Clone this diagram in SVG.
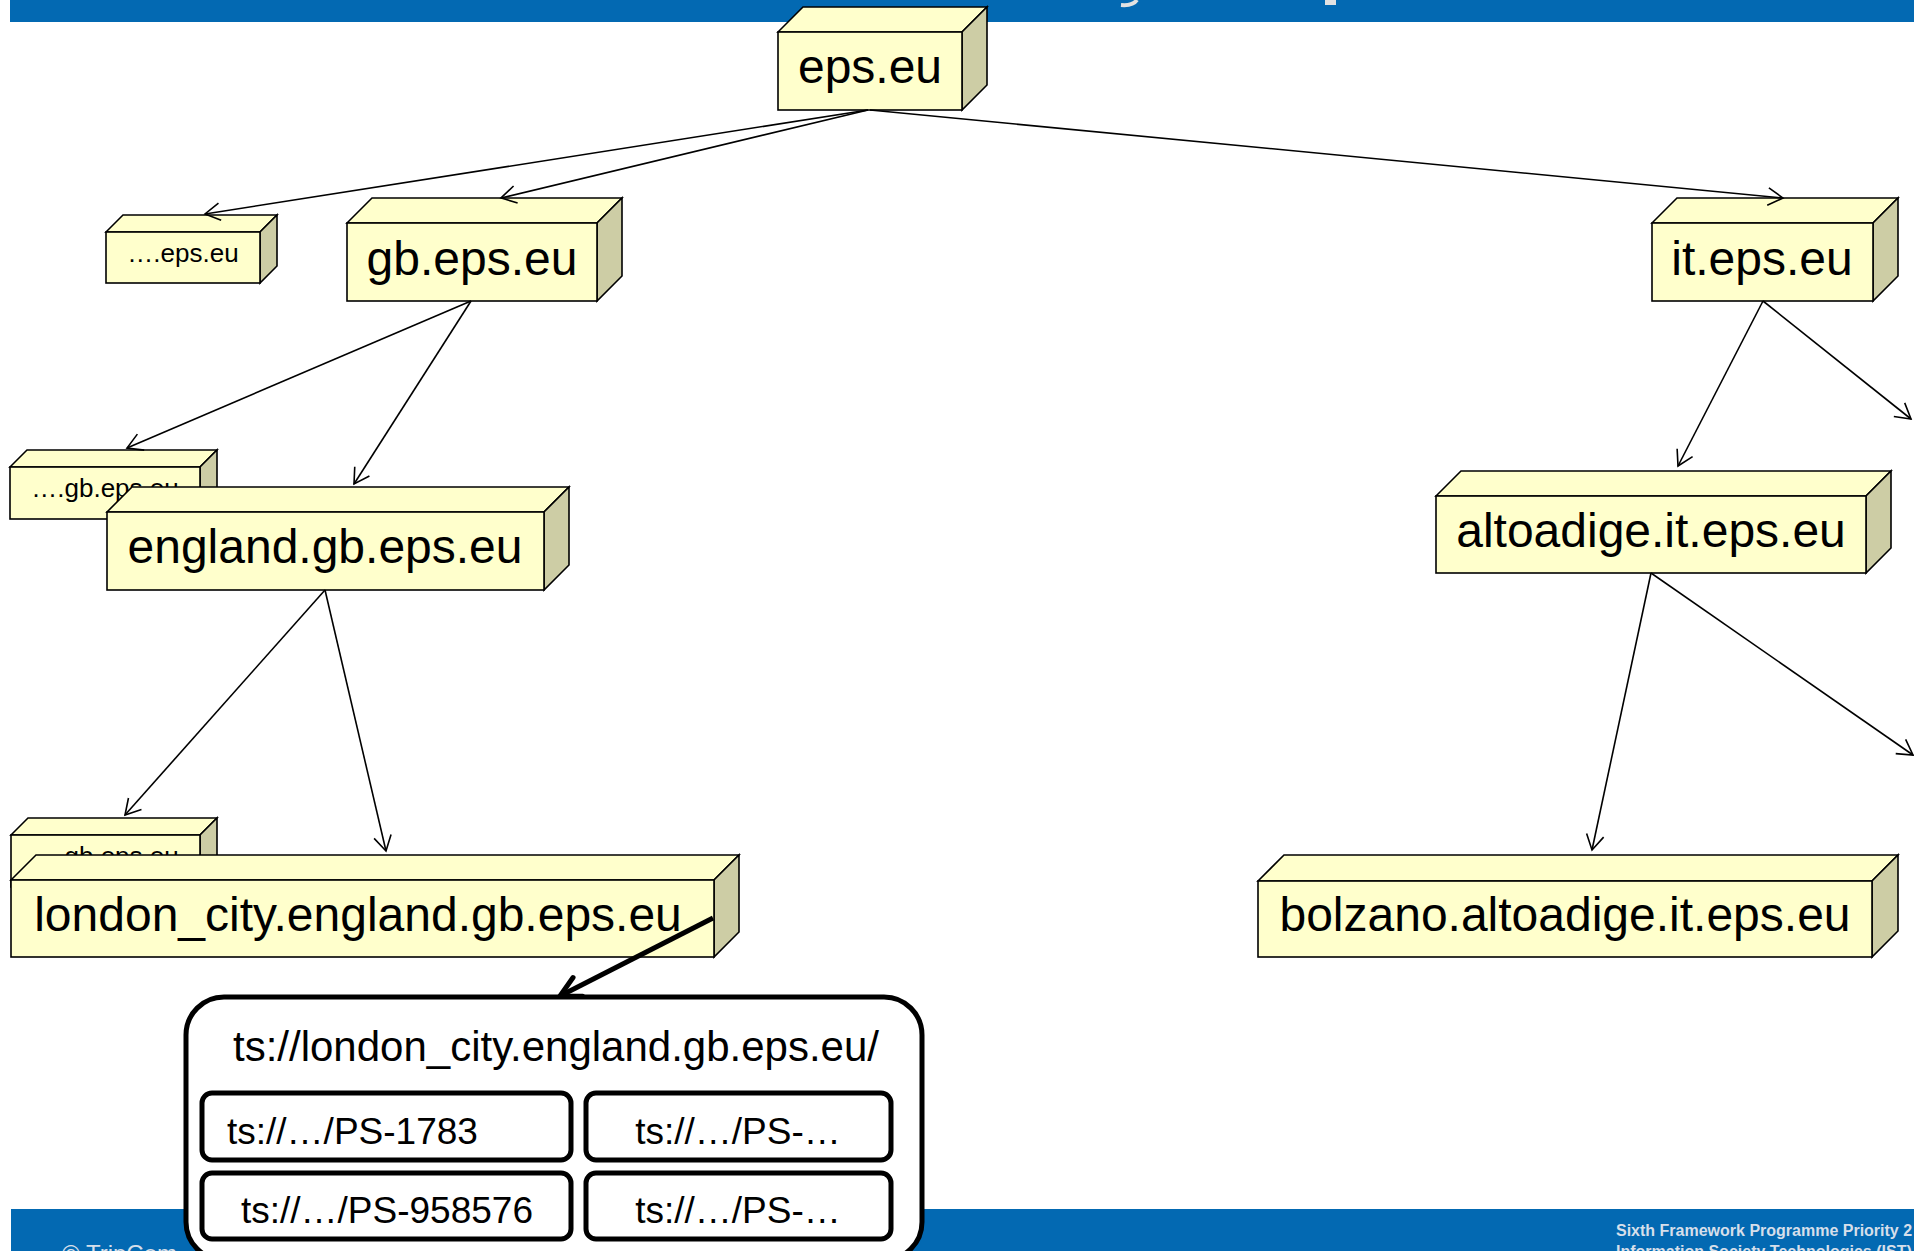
<svg xmlns="http://www.w3.org/2000/svg" width="1914" height="1251" viewBox="0 0 1914 1251">
<style>
.bar{fill:#0369B2}
.fr{fill:#FFFFCC;stroke:#000;stroke-width:1.6}
.sd{fill:#CDCDA5;stroke:#000;stroke-width:1.6}
.lbl{font-family:"Liberation Sans",Arial,sans-serif;font-size:48px;fill:#000;text-anchor:middle}
.sm{font-size:26px}
.ln{fill:none;stroke:#000;stroke-width:1.6;marker-end:url(#open)}
.thick{fill:none;stroke:#000;stroke-width:5;marker-end:url(#openThick)}
.box{fill:#fff;stroke:#000;stroke-width:5}
.ts{font-family:"Liberation Sans",Arial,sans-serif;font-size:37px;fill:#000;text-anchor:middle}
.tsl{text-anchor:start}
.tsh{font-size:42px}
.foot{font-family:"Liberation Sans",Arial,sans-serif;fill:#D6DFEA}
.f1{font-size:24px}
.f2{font-size:16px;font-weight:bold}
</style>
<defs>
<marker id="open" markerUnits="userSpaceOnUse" markerWidth="40" markerHeight="40" viewBox="-20 -20 40 40" refX="0" refY="0" orient="auto">
<path d="M-15,-8.7 L0,0 L-15,8.7" fill="none" stroke="#000" stroke-width="1.6"/>
</marker>
<marker id="openThick" markerUnits="userSpaceOnUse" markerWidth="60" markerHeight="60" viewBox="-30 -30 60 60" refX="0" refY="0" orient="auto">
<path d="M-20,-10.5 L0,0 L-20,10.5" fill="none" stroke="#000" stroke-width="5" stroke-linecap="round"/>
</marker>
</defs>
<rect x="0" y="0" width="1914" height="1251" fill="#fff"/>
<g id="header">
<rect class="bar" x="10" y="0" width="1904" height="22"/>
<path d="M1137,0 Q1133,6 1121,5" fill="none" stroke="#E2E2E2" stroke-width="4"/>
<rect x="1325" y="0" width="11" height="5" fill="#E2E2E2"/>
</g>
<g id="footer">
<rect class="bar" x="11" y="1209" width="1903" height="42"/>
<text class="foot f1" x="62" y="1262">© TripCom</text>
<text class="foot f2" x="1616" y="1236">Sixth Framework Programme Priority 2</text>
<text class="foot f2" x="1616" y="1257">Information Society Technologies (IST)</text>
</g>
<g id="node-eps">
<polygon class="fr" points="778,32 803,7 987,7 962,32"/>
<polygon class="sd" points="962,32 987,7 987,85 962,110"/>
<rect class="fr" x="778" y="32" width="184" height="78"/>
<text class="lbl" x="870" y="83">eps.eu</text>
</g>
<g id="node-dots-eps">
<polygon class="fr" points="106,232 123,215 277,215 260,232"/>
<polygon class="sd" points="260,232 277,215 277,266 260,283"/>
<rect class="fr" x="106" y="232" width="154" height="51"/>
<text class="lbl sm" x="183" y="262">….eps.eu</text>
</g>
<g id="node-gb">
<polygon class="fr" points="347,223 372,198 622,198 597,223"/>
<polygon class="sd" points="597,223 622,198 622,276 597,301"/>
<rect class="fr" x="347" y="223" width="250" height="78"/>
<text class="lbl" x="472" y="275">gb.eps.eu</text>
</g>
<g id="node-it">
<polygon class="fr" points="1652,223 1677,198 1898,198 1873,223"/>
<polygon class="sd" points="1873,223 1898,198 1898,276 1873,301"/>
<rect class="fr" x="1652" y="223" width="221" height="78"/>
<text class="lbl" x="1762" y="275">it.eps.eu</text>
</g>
<g id="node-dots-gb-1">
<polygon class="fr" points="10,467 27,450 217,450 200,467"/>
<polygon class="sd" points="200,467 217,450 217,502 200,519"/>
<rect class="fr" x="10" y="467" width="190" height="52"/>
<text class="lbl sm" x="105" y="497">….gb.eps.eu</text>
</g>
<g id="node-england">
<polygon class="fr" points="107,512 132,487 569,487 544,512"/>
<polygon class="sd" points="544,512 569,487 569,565 544,590"/>
<rect class="fr" x="107" y="512" width="437" height="78"/>
<text class="lbl" x="325" y="563">england.gb.eps.eu</text>
</g>
<g id="node-altoadige">
<polygon class="fr" points="1436,496 1461,471 1891,471 1866,496"/>
<polygon class="sd" points="1866,496 1891,471 1891,548 1866,573"/>
<rect class="fr" x="1436" y="496" width="430" height="77"/>
<text class="lbl" x="1651" y="547">altoadige.it.eps.eu</text>
</g>
<g id="node-dots-gb-2">
<polygon class="fr" points="11,835 28,818 217,818 200,835"/>
<polygon class="sd" points="200,835 217,818 217,870 200,887"/>
<rect class="fr" x="11" y="835" width="189" height="52"/>
<text class="lbl sm" x="105" y="865">….gb.eps.eu</text>
</g>
<g id="node-london">
<polygon class="fr" points="11,880 36,855 739,855 714,880"/>
<polygon class="sd" points="714,880 739,855 739,932 714,957"/>
<rect class="fr" x="11" y="880" width="703" height="77"/>
<text class="lbl" x="358" y="931">london_city.england.gb.eps.eu</text>
</g>
<g id="node-bolzano">
<polygon class="fr" points="1258,881 1284,855 1898,855 1872,881"/>
<polygon class="sd" points="1872,881 1898,855 1898,931 1872,957"/>
<rect class="fr" x="1258" y="881" width="614" height="76"/>
<text class="lbl" x="1565" y="931">bolzano.altoadige.it.eps.eu</text>
</g>
<g id="connectors">
<line class="ln" x1="868" y1="110" x2="205" y2="214"/>
<line class="ln" x1="868" y1="110" x2="501" y2="198"/>
<line class="ln" x1="870" y1="110" x2="1783" y2="198"/>
<line class="ln" x1="471" y1="301" x2="127" y2="448"/>
<line class="ln" x1="471" y1="301" x2="354" y2="484"/>
<line class="ln" x1="325" y1="590" x2="125" y2="815"/>
<line class="ln" x1="325" y1="590" x2="386" y2="851"/>
<line class="ln" x1="1763" y1="301" x2="1678" y2="466"/>
<line class="ln" x1="1763" y1="301" x2="1911" y2="419"/>
<line class="ln" x1="1651" y1="573" x2="1592" y2="850"/>
<line class="ln" x1="1651" y1="573" x2="1913" y2="755"/>
<line class="thick" x1="713" y1="918" x2="560" y2="996"/>
</g>
<g id="node-ts-store">
<rect class="box" x="186" y="997" width="736" height="263" rx="38" ry="38"/>
<text class="ts tsh" x="556" y="1061">ts://london_city.england.gb.eps.eu/</text>
<rect class="box" x="202" y="1093" width="369" height="67" rx="10" ry="10"/>
<rect class="box" x="586" y="1093" width="305" height="67" rx="10" ry="10"/>
<rect class="box" x="202" y="1173" width="369" height="66" rx="10" ry="10"/>
<rect class="box" x="586" y="1173" width="305" height="66" rx="10" ry="10"/>
<text class="ts tsl" x="227" y="1144">ts://…/PS-1783</text>
<text class="ts" x="738" y="1144">ts://…/PS-…</text>
<text class="ts" x="387" y="1223">ts://…/PS-958576</text>
<text class="ts" x="738" y="1223">ts://…/PS-…</text>
</g>
</svg>
